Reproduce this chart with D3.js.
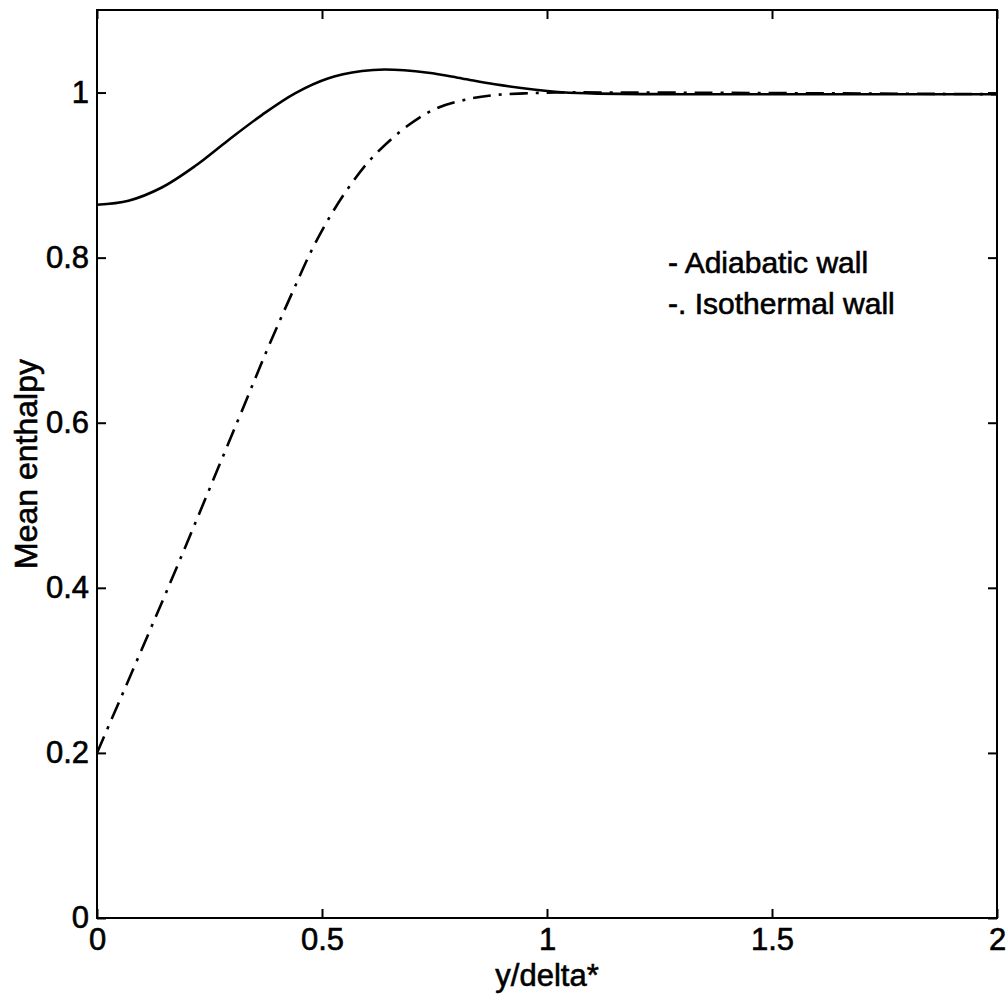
<!DOCTYPE html>
<html>
<head>
<meta charset="utf-8">
<script src="https://cdn.jsdelivr.net/npm/d3@7"></script>
<style>
  body { margin: 0; background: #fff; }
  svg text { font-family: "Liberation Sans", Arial, Helvetica, sans-serif; fill: #000; stroke: #000; stroke-width: 0.6px; }
</style>
</head>
<body>
<svg id="chart" width="1008" height="1000"></svg>
<script>
// ---- data ----
const adiabaticX = [0, 0.07, 0.144, 0.218, 0.291, 0.367, 0.44, 0.513, 0.589, 0.64, 0.736, 0.811, 0.884, 1.018, 1.1, 1.3, 1.6, 2.0];
const adiabaticY = [0.864, 0.869, 0.885, 0.911, 0.942, 0.973, 0.999, 1.017, 1.026, 1.028, 1.024, 1.017, 1.010, 1.001, 0.999, 0.998, 0.998, 0.998];
const isothermalX = [0, 0.158, 0.311, 0.381, 0.44, 0.478, 0.518, 0.562, 0.613, 0.691, 0.751, 0.824, 0.884, 0.95, 1.018, 1.2, 2.0];
const isothermalY = [0.2, 0.4, 0.6, 0.692, 0.765, 0.81, 0.85, 0.887, 0.922, 0.96, 0.98, 0.992, 0.997, 0.999, 1.0, 1.0, 0.998];
const xTicks = [0, 0.5, 1, 1.5, 2];
const xTickLabels = ["0", "0.5", "1", "1.5", "2"];
const yTicks = [0, 0.2, 0.4, 0.6, 0.8, 1];
const yTickLabels = ["0", "0.2", "0.4", "0.6", "0.8", "1"];
const legendLabels = ["- Adiabatic wall", "-. Isothermal wall"];
const xLabel = "y/delta*";
const yLabel = "Mean enthalpy";

// ---- layout ----
const L = 97, R = 997, T = 10, B = 918;
const svg = d3.select("#chart");
const x = d3.scaleLinear().domain([0, 2]).range([L, R]);
const y = d3.scaleLinear().domain([0, 1.1]).range([B, T]);

svg.append("rect").attr("x", L).attr("y", T).attr("width", R - L).attr("height", B - T)
  .attr("fill", "none").attr("stroke", "#000").attr("stroke-width", 2);

const tickLen = 9;
const fontSize = 31;

const xb = svg.append("g").attr("transform", `translate(0,${B})`)
  .call(d3.axisBottom(x).tickValues(xTicks).tickFormat((d, i) => xTickLabels[i]).tickSizeInner(-tickLen).tickSizeOuter(0).tickPadding(10));
const xt = svg.append("g").attr("transform", `translate(0,${T})`)
  .call(d3.axisTop(x).tickValues(xTicks).tickFormat("").tickSizeInner(-tickLen).tickSizeOuter(0));
const yl = svg.append("g").attr("transform", `translate(${L},0)`)
  .call(d3.axisLeft(y).tickValues(yTicks).tickFormat((d, i) => yTickLabels[i]).tickSizeInner(-tickLen).tickSizeOuter(0).tickPadding(8));
const yr = svg.append("g").attr("transform", `translate(${R},0)`)
  .call(d3.axisRight(y).tickValues(yTicks).tickFormat("").tickSizeInner(-tickLen).tickSizeOuter(0));

[xb, xt, yl, yr].forEach(g => {
  g.select(".domain").remove();
  g.selectAll(".tick line").attr("stroke", "#000").attr("stroke-width", 2);
  g.selectAll(".tick text").attr("font-size", fontSize).attr("font-family", "Liberation Sans, Arial, sans-serif").attr("fill", "#000");
});
xb.selectAll(".tick text").attr("dy", "0.71em");

svg.append("text").attr("x", (L + R) / 2).attr("y", 986).attr("text-anchor", "middle")
  .attr("font-size", fontSize).text(xLabel);
svg.append("text").attr("transform", `translate(37,${(T + B) / 2}) rotate(-90)`).attr("text-anchor", "middle")
  .attr("font-size", 32).text(yLabel);

const line = d3.line().x(d => x(d[0])).y(d => y(d[1])).curve(d3.curveCatmullRom.alpha(0.5));
const adiabatic = adiabaticX.map((v, i) => [v, adiabaticY[i]]);
const isothermal = isothermalX.map((v, i) => [v, isothermalY[i]]);

svg.append("path").datum(isothermal).attr("d", line).attr("fill", "none")
  .attr("stroke", "#000").attr("stroke-width", 2.6).attr("stroke-dasharray", "18,8,3,8");
svg.append("path").datum(adiabatic).attr("d", line).attr("fill", "none")
  .attr("stroke", "#000").attr("stroke-width", 2.6);

svg.append("text").attr("x", 668).attr("y", 273).attr("font-size", 30).text(legendLabels[0]);
svg.append("text").attr("x", 668).attr("y", 314).attr("font-size", 30).text(legendLabels[1]);
</script>
</body>
</html>
